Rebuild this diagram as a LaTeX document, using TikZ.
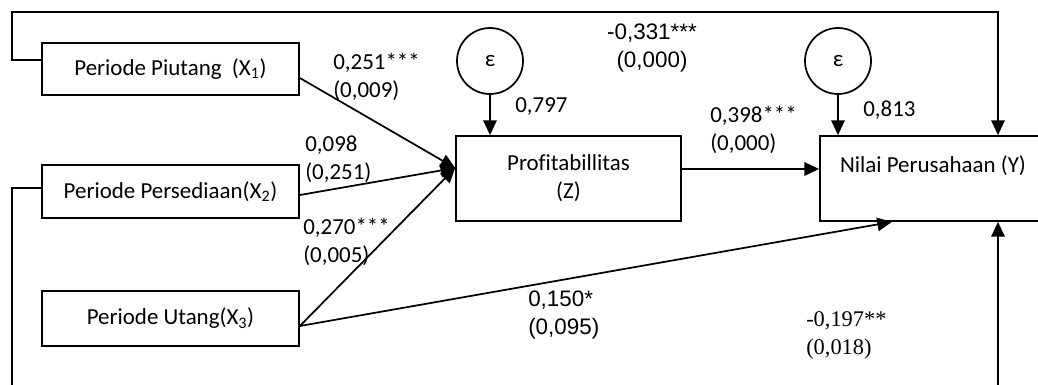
\documentclass[tikz,border=0pt]{standalone}
\usepackage{fontspec}
\setmainfont{Carlito}[Ligatures=NoCommon]
\newfontfamily\arialf{Liberation Sans}
\newfontfamily\timesf{Liberation Serif}
\usetikzlibrary{arrows.meta}
\begin{document}
\begin{tikzpicture}[x=0.75pt,y=-0.75pt,
  font=\fontsize{17.2}{21}\selectfont,
  box/.style={draw,line width=1.3pt,inner sep=0pt,align=center},
  errc/.style={draw,circle,line width=1.3pt,minimum size=49.5pt,inner sep=0pt},
  conn/.style={line width=1.3pt},
  arr/.style={conn,-{Triangle[length=11pt,width=10pt]}},
  lab/.style={anchor=west,align=left,inner sep=0pt},
  arlab/.style={font=\arialf\fontsize{16.8}{21}\selectfont},
  tmlab/.style={font=\timesf\fontsize{16.8}{21}\selectfont},
]
\useasboundingbox (0,0) rectangle (1038,385);
\clip (0,0) rectangle (1038,385);

% boxes
\node[box,minimum width=192.75pt,minimum height=39pt] (X1) at (170.5,69) {Periode Piutang\ \ (X\textsubscript{1})};
\node[box,minimum width=192.75pt,minimum height=39.75pt] (X2) at (170.5,191.5) {Periode Persediaan(X\textsubscript{2})};
\node[box,minimum width=192.75pt,minimum height=41.25pt] (X3) at (170.5,318.5) {Periode Utang(X\textsubscript{3})};
\node[box,minimum width=168.75pt,minimum height=63.75pt] (Z) at (568.5,178.5) {Profitabillitas\\(Z)};
\node[box,minimum width=169.5pt,minimum height=63.75pt] (Y) at (933,178.5) {Nilai Perusahaan (Y)\\\mbox{}};

% error terms
\node[errc] (e1) at (490,61) {ε};
\node[errc] (e2) at (838,61) {ε};

% connectors
\draw[arr] (e1) -- (e1 |- Z.north);
\draw[arr] (e2) -- (e2 |- Y.north);
\draw[arr] (Z.east |- 0,169) -- (Y.west |- 0,169);
\draw[arr] (X1.east |- 0,78) -- (Z.west |- 0,168);
\draw[arr] (X2.east |- 0,195) -- (Z.west |- 0,168);
\draw[arr] (X3.east |- 0,326) -- (Z.west |- 0,168);
\draw[arr] (X3.east |- 0,326) -- (Y.south -| 892,0);
\draw[arr] (X1.west |- 0,60) -- (12,60) -- (12,12) -- (998,12) -- (Y.north -| 998,0);
\coordinate (bl) at (12,400);
\coordinate (br) at (998,400);
\draw[conn] (X2.west |- 0,188) -| (bl);
\draw[arr] (br) -- (Y.south -| br);

% labels
\node[lab] (l1) at (333,76.5) {0,251***\\(0,009)};
\node[lab] (l2) at (305,159.5) {0,098\\(0,251)};
\node[lab] (l3) at (303,242) {0,270***\\(0,005)};
\node[lab] (l4) at (515,107) {0,797};
\node[arlab,align=center,inner sep=0pt] (l5) at (652,47.5) {-0,331***\\(0,000)};
\node[lab] (l6) at (710,130) {0,398***\\(0,000)};
\node[lab] (l7) at (863,110) {0,813};
\node[lab,arlab] (l8) at (528,315) {0,150*\\(0,095)};
\node[lab,tmlab] (l9) at (806,335) {-0,197**\\(0,018)};
\end{tikzpicture}
\end{document}
